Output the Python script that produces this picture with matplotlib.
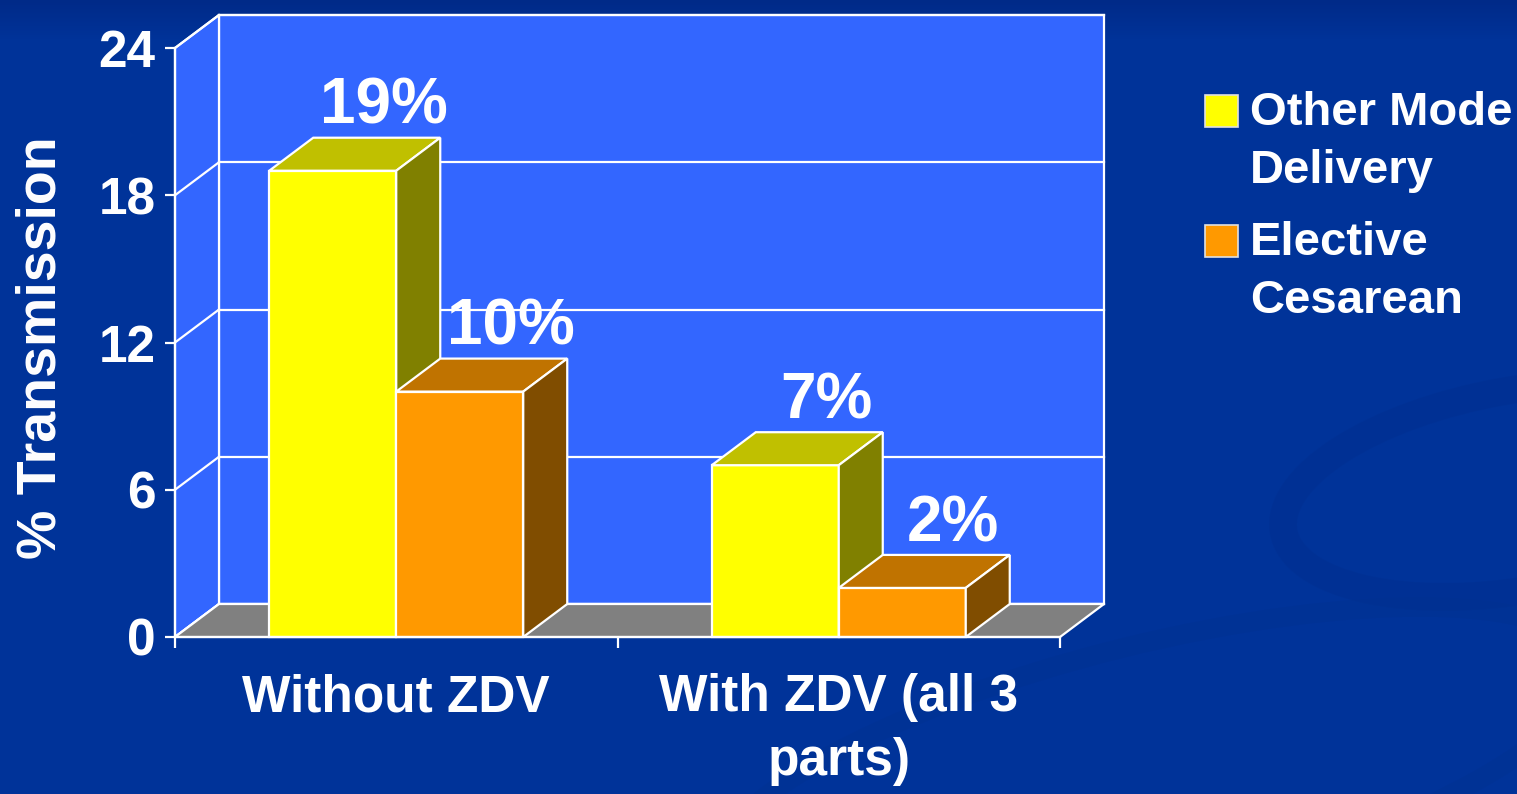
import matplotlib.pyplot as plt
from matplotlib.patches import Polygon, Rectangle, Ellipse
import numpy as np

# data
categories = ['Without ZDV', 'With ZDV (all 3\nparts)']
series_names = ['Other Mode\nDelivery', 'Elective\nCesarean']
other_mode = [19, 7]
elective_cesarean = [10, 2]
value_labels = [['19%', '7%'], ['10%', '2%']]
yticks = [0, 6, 12, 18, 24]

front_colors = ['#FFFF00', '#FF9900']
top_colors = ['#C0C000', '#C07300']
side_colors = ['#808000', '#804D00']
wall_color = '#3366FF'
floor_color = '#808080'
bg_color = '#003399'

plt.rcParams['font.family'] = ['Liberation Sans', 'DejaVu Sans']
plt.rcParams['font.weight'] = 'bold'

W, H = 1517, 794
fig = plt.figure(figsize=(W / 100, H / 100), dpi=100)
fig.patch.set_facecolor(bg_color)

# slide background: darker band on top, faint swooshes bottom right
bg = fig.add_axes([0, 0, 1, 1], zorder=-10)
bg.set_xlim(0, W)
bg.set_ylim(H, 0)
bg.axis('off')
grad = np.linspace(0, 1, 40)[:, None]
top_c = np.array([0x00, 0x2A, 0x88]) / 255
mid_c = np.array([0x00, 0x33, 0x99]) / 255
img = top_c + (mid_c - top_c) * grad[..., None]
bg.imshow(np.repeat(img, 2, axis=1), extent=(0, W, 40, 0), aspect='auto')
bg.add_patch(Ellipse((1520, 490), 480, 200, angle=-10, fc='none', ec='#002F90', lw=20, alpha=0.5))
bg.add_patch(Ellipse((1150, 770), 900, 250, angle=-14, fc='none', ec='#00318F', lw=14, alpha=0.4))

# plot area (front plane)
ax = fig.add_axes([175 / W, (H - 637) / H, 885 / W, 589 / H])
ax.set_xlim(0, 2)
ax.set_ylim(0, 24)
ax.patch.set_visible(False)

# 3-D depth offset, set in pixels
px_x = 885 / 2
px_y = 589 / 24
dx = 44 / px_x
dy = 33 / px_y
lw = 1.6

ax.add_patch(Rectangle((dx, dy), 2, 24, fc=wall_color, ec='white', lw=lw, clip_on=False, zorder=0))
ax.add_patch(Polygon([(0, 0), (dx, dy), (dx, 24 + dy), (0, 24)], closed=True,
                     fc=wall_color, ec='white', lw=lw, clip_on=False, zorder=0))
for t in yticks:
    ax.plot([dx, 2 + dx], [t + dy, t + dy], color='white', lw=lw, clip_on=False, zorder=1)
    ax.plot([0, dx], [t, t + dy], color='white', lw=lw, clip_on=False, zorder=1)
ax.add_patch(Polygon([(0, 0), (2, 0), (2 + dx, dy), (dx, dy)], closed=True,
                     fc=floor_color, ec='white', lw=lw, clip_on=False, zorder=2))

bw = 0.287
values = [other_mode, elective_cesarean]
for g in range(len(categories)):
    c = g + 0.5
    for s in range(len(values)):
        v = values[s][g]
        x0 = c - bw + s * bw
        z = 3 + s
        ax.add_patch(Rectangle((x0, 0), bw, v, fc=front_colors[s], ec='white', lw=lw,
                               clip_on=False, zorder=z))
        ax.add_patch(Polygon([(x0, v), (x0 + dx, v + dy), (x0 + bw + dx, v + dy), (x0 + bw, v)],
                             closed=True, fc=top_colors[s], ec='white', lw=lw, clip_on=False, zorder=z))
        ax.add_patch(Polygon([(x0 + bw, 0), (x0 + bw + dx, dy), (x0 + bw + dx, v + dy), (x0 + bw, v)],
                             closed=True, fc=side_colors[s], ec='white', lw=lw, clip_on=False, zorder=z))
        ax.annotate(value_labels[s][g], (x0 + bw / 2 + dx, v + dy), xytext=(5, 10),
                    textcoords='offset points', ha='center', va='baseline',
                    fontsize=46, color='white', zorder=10, annotation_clip=False)

for side in ['top', 'right']:
    ax.spines[side].set_visible(False)
for side in ['left', 'bottom']:
    ax.spines[side].set_color('white')
    ax.spines[side].set_linewidth(lw)
    ax.spines[side].set_zorder(6)

ax.set_yticks(yticks)
ax.tick_params(axis='y', colors='white', length=7, width=lw, labelsize=37, pad=7)
ax.set_xticks([0, 1, 2])
ax.set_xticklabels(['', '', ''])
ax.set_xticks([0.5, 1.5], minor=True)
ax.set_xticklabels(categories, minor=True, linespacing=1.38)
ax.tick_params(axis='x', which='major', colors='white', length=8, width=lw)
ax.tick_params(axis='x', which='minor', colors='white', length=0, labelsize=37, pad=26)

fig.text(42 / W, 1 - 348 / H, '% Transmission', rotation=90, ha='center', va='center',
         fontsize=40, color='white')

# legend
for i, name in enumerate(series_names):
    ytop = 95 + 130 * i
    fig.patches.append(Rectangle((1205 / W, 1 - (ytop + 32) / H), 33 / W, 32 / H,
                                 transform=fig.transFigure, fc=front_colors[i], ec='#E0E0E0', lw=1.2))
    fig.text(1250 / W, 1 - (ytop - 4) / H, name, ha='left', va='top', fontsize=34,
             color='white', linespacing=1.42)

fig.savefig('out.png', dpi=100, facecolor=fig.get_facecolor())
